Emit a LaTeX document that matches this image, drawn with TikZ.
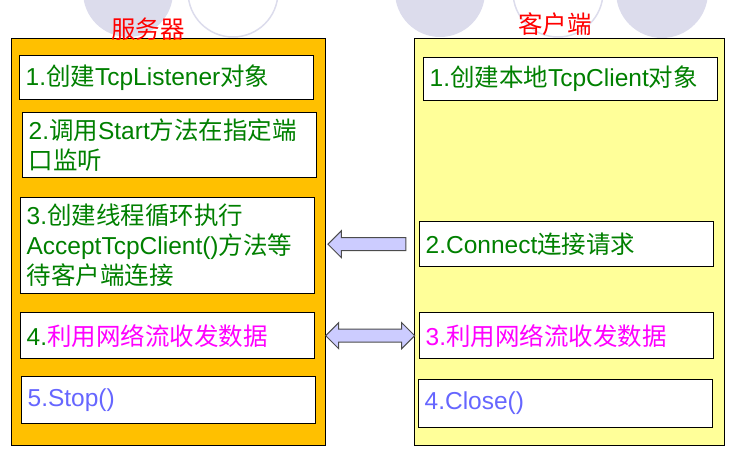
\documentclass[tikz,border=0pt]{standalone}
\usepackage{fontspec}
\setmainfont{Liberation Sans}
\newfontfamily\cjk{Noto Sans CJK SC}
\newcommand{\zh}[1]{{\cjk #1}}
\usetikzlibrary{shapes.arrows,calc}
\definecolor{srvfill}{HTML}{FFC000}
\definecolor{clifill}{HTML}{FFFF99}
\definecolor{stepgreen}{HTML}{008000}
\definecolor{datamag}{HTML}{FF00FF}
\definecolor{endblue}{HTML}{6666FF}
\definecolor{ringlav}{HTML}{DCDCEC}
\definecolor{arrowlav}{HTML}{CCCCFF}
\begin{document}
\begin{tikzpicture}[x=1pt,y=-1pt,
    side/.style={draw,line width=1.3pt,anchor=north west,inner sep=0pt},
    stepbox/.style={draw,fill=white,line width=1.3pt,anchor=north west,
      minimum height=#1,text width=282pt,inner xsep=6pt,inner ysep=0pt,
      align=left,font=\fontsize{24.5}{30}\selectfont,text=stepgreen},
    title/.style={text=red,font=\cjk\fontsize{24.5}{28}\selectfont},
    blockarrow/.style={draw=black!70,line width=1pt,fill=arrowlav,
      inner sep=0pt,inner ysep=6pt}]
  \useasboundingbox (0,0) rectangle (743,470);
  \fill[ringlav] (128,-8) circle[radius=45];
  \draw[ringlav,line width=1.5pt] (233,-8) circle[radius=45];
  \fill[ringlav] (440,-8) circle[radius=45];
  \draw[ringlav,line width=1.5pt] (558,-8) circle[radius=45];
  \fill[ringlav] (662,-8) circle[radius=46];
  \node[side,fill=srvfill,minimum width=314pt,minimum height=407pt] (srv) at (11,38) {};
  \node[side,fill=clifill,minimum width=310pt,minimum height=407pt] (cli) at (414,38) {};
  \node[title] (srvtitle) at (148,29) {服务器};
  \node[title] (clititle) at (555,24) {客户端};
  \node[stepbox=44pt] (s1) at (19,55) {1.\zh{创建}TcpListener\zh{对象}};
  \node[stepbox=65pt] (s2) at (22,112) {2.\zh{调用}Start\zh{方法在指定端}\\\zh{口监听}};
  \node[stepbox=96pt] (s3) at (20,197) {3.\zh{创建线程循环执行}\\AcceptTcpClient()\zh{方法等}\\\zh{待客户端连接}};
  \node[stepbox=46pt] (s4) at (20,312) {4.\textcolor{datamag}{\zh{利用网络流收发数据}}};
  \node[stepbox=47pt,text=endblue] (s5) at (21,376) {5.Stop()};
  \node[stepbox=43pt] (c1) at (423,57) {1.\zh{创建本地}TcpClient\zh{对象}};
  \node[stepbox=45pt] (c2) at (419,221) {2.Connect\zh{连接请求}};
  \node[stepbox=46pt,text=datamag] (c3) at (419,312) {3.\zh{利用网络流收发数据}};
  \node[stepbox=48pt,text=endblue] (c4) at (418,379) {4.Close()};
  \node[blockarrow,single arrow,shape border rotate=180,single arrow head extend=7pt,
    minimum height=78pt] (req) at ($(srv.east|-c2)!.5!(cli.west|-c2)$) {};
  \node[blockarrow,double arrow,double arrow head extend=6.5pt,
    minimum height=89pt] (data) at ($(srv.east|-c3)!.5!(cli.west|-c3)$) {};
\end{tikzpicture}
\end{document}
